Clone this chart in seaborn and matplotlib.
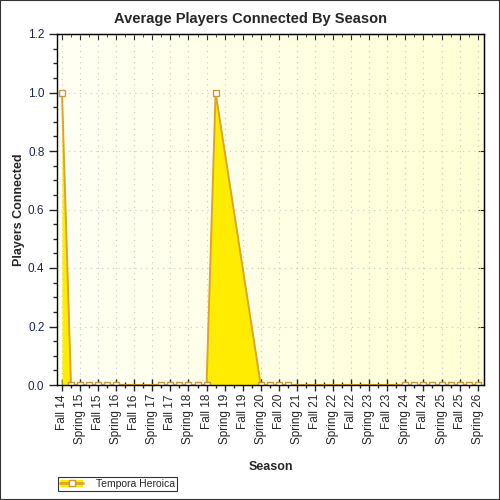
import numpy as np
import matplotlib
matplotlib.use("Agg")
import matplotlib.pyplot as plt
import seaborn as sns
import pandas as pd
from matplotlib.patches import Patch, Rectangle
from matplotlib.lines import Line2D

# season labels, one every two quarters starting at Fall 14
seasons = ["Fall 14", "Spring 15", "Fall 15", "Spring 16", "Fall 16", "Spring 17",
           "Fall 17", "Spring 18", "Fall 18", "Spring 19", "Fall 19", "Spring 20",
           "Fall 20", "Spring 21", "Fall 21", "Spring 22", "Fall 22", "Spring 23",
           "Fall 23", "Spring 24", "Fall 24", "Spring 25", "Fall 25", "Spring 26"]

# data points (quarter index since Fall 14) and average players
quarter_idx = [0, 1, 2, 3, 4, 5, 6,
               11, 12, 13, 14, 15, 16, 17,
               22, 23, 24, 25,
               38, 39, 40, 41, 42, 43, 44, 45, 46]
players = [1.0, 0.0, 0.0, 0.0, 0.0, 0.0, 0.0,
           0.0, 0.0, 0.0, 0.0, 0.0, 0.0, 1.0,
           0.0, 0.0, 0.0, 0.0,
           0.0, 0.0, 0.0, 0.0, 0.0, 0.0, 0.0, 0.0, 0.0]
series_name = "Tempora Heroica"

df = pd.DataFrame({"q": quarter_idx, "players": players})

sns.set_style("ticks")
plt.rcParams["font.family"] = ["Liberation Sans", "DejaVu Sans"]

fill_col = "#FFEC00"
line_col = "#DDA42A"
mark_col = "#C89A40"

fig = plt.figure(figsize=(5, 5), dpi=100)
ax = fig.add_axes([57 / 500, 115 / 500, 427 / 500, 351 / 500])

# light cream gradient background
grad = np.linspace(0, 1, 256).reshape(1, -1)
cmap = matplotlib.colors.LinearSegmentedColormap.from_list("bg", ["#FFFFF4", "#FFFFD6"])
ax.imshow(grad, cmap=cmap, aspect="auto", extent=[0, 1, 0, 1],
          transform=ax.transAxes, zorder=0)

ax.fill_between(df["q"], df["players"], 0, color=fill_col, lw=0, zorder=2)
sns.lineplot(data=df, x="q", y="players", ax=ax, color=line_col, lw=1.4,
             marker="s", markersize=5, markerfacecolor="white",
             markeredgecolor=mark_col, markeredgewidth=1, zorder=3)

ax.set_xlim(-0.55, 46.7)
ax.set_ylim(0, 1.2)

ax.set_xticks(range(0, 2 * len(seasons), 2))
ax.set_xticklabels(seasons, rotation=90, fontsize=8.5)
ax.set_xticks(range(1, 2 * len(seasons) - 1, 2), minor=True)
ax.set_yticks(np.arange(0, 1.21, 0.2))
ax.set_yticklabels([f"{v:.1f}" for v in np.arange(0, 1.21, 0.2)], fontsize=8.5, color="#1c2850")
ax.set_yticks(np.arange(0, 1.21, 0.05), minor=True)

ax.tick_params(axis="x", which="major", direction="inout", length=9, width=1, pad=2)
ax.tick_params(axis="x", which="minor", direction="inout", length=5, width=1)
ax.tick_params(axis="y", which="major", direction="out", length=6, width=1, pad=3)
ax.tick_params(axis="y", which="minor", direction="out", length=3, width=1)

ax.grid(True, which="major", color="#C8C8C8", linestyle=(0, (1, 4)), lw=0.8, zorder=1)
ax.set_axisbelow(True)

for s in ax.spines.values():
    s.set_color("black")
    s.set_linewidth(1)
    s.set_zorder(4)

# inner ticks on top and right border
top = ax.secondary_xaxis("top")
top.set_xticks(range(0, 2 * len(seasons), 2))
top.set_xticks(range(1, 2 * len(seasons) - 1, 2), minor=True)
top.tick_params(which="major", direction="in", length=4, labeltop=False)
top.tick_params(which="minor", direction="in", length=2)
right = ax.secondary_yaxis("right")
right.set_yticks(np.arange(0, 1.21, 0.2))
right.tick_params(direction="in", length=4, labelright=False)

ax.set_xlabel("Season", fontsize=9, fontweight="bold", labelpad=12)
ax.set_ylabel("Players Connected", fontsize=9, fontweight="bold", labelpad=2)
fig.suptitle("Average Players Connected By Season", fontsize=10.5,
             fontweight="bold", y=0.975)

handle = (Patch(facecolor=fill_col, edgecolor="none"),
          Line2D([], [], color=line_col, lw=2, marker="s", markersize=5,
                 markerfacecolor="white", markeredgecolor=mark_col))
leg = fig.legend([handle], [series_name], loc="lower left",
                 bbox_to_anchor=(58 / 500, 9 / 500), fontsize=7.5, frameon=True,
                 fancybox=False, borderpad=0.2, handlelength=2.2,
                 handletextpad=1.2, borderaxespad=0)
leg.get_frame().set_edgecolor("black")
leg.get_frame().set_linewidth(0.8)

fig.patches.append(Rectangle((0, 0), 1, 1, transform=fig.transFigure,
                             fill=False, edgecolor="#333333", lw=1.5))

fig.savefig("out.png", dpi=100)
